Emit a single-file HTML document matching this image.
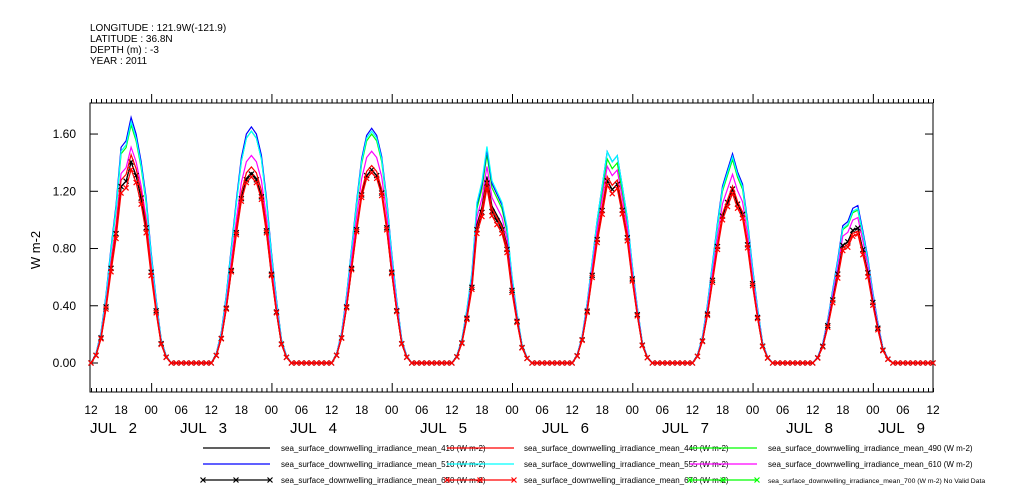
<!DOCTYPE html>
<html><head><meta charset="utf-8"><style>
body{margin:0;background:#fff;}
svg{display:block;font-family:"Liberation Sans",sans-serif;}
</style></head><body>
<svg id="c" width="1009" height="504" viewBox="0 0 1009 504">
<g font-size="10" fill="#000">
<text x="90" y="31">LONGITUDE : 121.9W(-121.9)</text>
<text x="90" y="42">LATITUDE : 36.8N</text>
<text x="90" y="53">DEPTH (m) : -3</text>
<text x="90" y="64">YEAR : 2011</text>
</g>
<text x="40" y="250" font-size="13" text-anchor="middle" transform="rotate(-90 40 250)">W m-2</text>
<g id="axes"></g>
<g id="plot"></g>
<g id="legend"></g>
</svg>
<script>
const seriesNames = ["410","440","490","510","555","610","650","670"];
const seriesColors = ["#000","#f00","#0f0","#00f","#0ff","#f0f","#000","#f00"];
const seriesMarkers = [false,false,false,false,false,false,true,true];
// hourly profile hours 12..28 (relative to daily peak)
const profile = [0,0.04,0.13,0.29,0.49,0.69,0.87,0.97,1.0,0.97,0.88,0.7,0.47,0.27,0.1,0.03,0];
// daily peak per series (rows = series, cols = JUL2..JUL8)
const peaks = [
 [1.35,1.33,1.35,1.12,1.25,1.18,0.9],
 [1.40,1.37,1.38,1.10,1.28,1.20,0.88],
 [1.60,1.62,1.60,1.25,1.40,1.38,1.02],
 [1.65,1.65,1.64,1.28,1.45,1.42,1.05],
 [1.62,1.62,1.62,1.30,1.45,1.40,1.03],
 [1.45,1.45,1.48,1.18,1.35,1.28,0.97],
 [1.35,1.32,1.35,1.08,1.25,1.18,0.9],
 [1.30,1.30,1.33,1.05,1.22,1.15,0.86]
];
// cloud multipliers per day per hour
const cloud = [
 [1,1,1,1,1,0.97,1.05,0.97,1.04,1,0.97,1,1,1,1,1,1],
 [1,1,1,1,1,1,1,1,1,1,1,1,1,1,1,1,1],
 [1,1,1,1,1,1,1,1,1,1,1,1,1,1,1,1,1],
 [1,1,1,1,1,1.25,1.12,1.2,0.98,0.95,0.98,1.05,1,1,1,1,1],
 [1,1,1,1,1,1,0.98,1.05,0.97,1.03,0.97,1,1,1,1,1,1],
 [1,1,1,1,1,1,1,0.98,1.03,0.97,1,1,1,1,1,1,1],
 [1,1,1,1,1,1,1.05,0.97,1.03,1.08,1,1,1,1,1,1,1]
];
const yTicks = ["0.00","0.40","0.80","1.20","1.60"];
const hourLabels = ["12","18","00","06"];
const dayLabels = ["JUL   2","JUL   3","JUL   4","JUL   5","JUL   6","JUL   7","JUL   8","JUL   9"];
const dayLabelX = [90,180,290,420,542,662,786,878];

const NS="http://www.w3.org/2000/svg";
const L=90,R=933,T=103,B=392;
const xs=t=>91+t*(842/168);
const ys=v=>363-v*143.1;
function mk(tag,attrs,parent){const e=document.createElementNS(NS,tag);for(const k in attrs)e.setAttribute(k,attrs[k]);parent.appendChild(e);return e;}
const axes=document.getElementById('axes'),plot=document.getElementById('plot'),leg=document.getElementById('legend');

const frame=mk('rect',{x:L,y:T,width:R-L,height:B-T,fill:'none',stroke:'#000','stroke-width':1},axes);

for(let h=0;h<=168;h++){
  const x=xs(h)+0.5;const isDay=((h+12)%24===0);const len=isDay?9:4;
  mk('line',{x1:x,x2:x,y1:B,y2:B-len,stroke:'#000'},axes);
  mk('line',{x1:x,x2:x,y1:T,y2:T-len,stroke:'#000'},axes);
  if(h%6===0){
    const t=mk('text',{x:xs(h),y:414,'font-size':12,'text-anchor':'middle'},axes);
    t.textContent=hourLabels[(h/6)%4];
    
  }
}
dayLabels.forEach((d,i)=>{
  const t=mk('text',{x:dayLabelX[i],y:433,'font-size':15},axes);
  t.style.whiteSpace='pre';
  t.textContent=d;
  
});
yTicks.forEach(s=>{
  const v=parseFloat(s),y=ys(v);
  mk('line',{x1:L,x2:L+8,y1:y,y2:y,stroke:'#000'},axes);
  mk('line',{x1:R,x2:R-8,y1:y,y2:y,stroke:'#000'},axes);
  const t=mk('text',{x:76,y:y+4,'font-size':12,'text-anchor':'end'},axes);
  t.textContent=s;
  
});
function xmark(x,y,c,p){mk('path',{d:`M${x-2.5} ${y-2.5}L${x+2.5} ${y+2.5}M${x-2.5} ${y+2.5}L${x+2.5} ${y-2.5}`,stroke:c,'stroke-width':1.2,fill:'none'},p);}
const order=[2,3,4,5,0,6,1,7];
order.forEach(si=>{
  const pts=[];
  for(let h=0;h<=168;h++){
    const d=Math.floor(h/24),k=h%24;
    let v=0;
    if(d<7&&k<profile.length) v=peaks[si][d]*profile[k]*cloud[d][k];
    else if(d>0&&k+24<profile.length) v=peaks[si][d-1]*profile[k+24]*cloud[d-1][k+24];
    pts.push([xs(h),ys(v)]);
  }
  const g=mk('g',{},plot);
  
  mk('polyline',{points:pts.map(p=>p.join(',')).join(' '),fill:'none',stroke:seriesColors[si],'stroke-width':1.2},g);
  if(seriesMarkers[si]) pts.forEach(p=>xmark(p[0],p[1],seriesColors[si],g));
});
const legCols=[[203,281],[447,524],[690,768]];
const legRows=[448,464,480];
const order9=["410","440","490","510","555","610","650","670","700"];
for(let i=0;i<9;i++){
  const col=i%3,row=Math.floor(i/3);const [lx,tx]=legCols[col];const y=legRows[row];
  const g=mk('g',{},leg);
  
  const si=seriesNames.indexOf(order9[i]);
  const c=si>=0?seriesColors[si]:"#0f0";
  mk('line',{x1:lx,x2:lx+67,y1:y,y2:y,stroke:c,'stroke-width':1.2},g);
  if(row===2){xmark(lx,y,c,g);xmark(lx+33,y,c,g);xmark(lx+67,y,c,g);}
  const t=mk('text',{x:tx,y:y+3,'font-size':i===8?6.8:8},g);
  t.textContent="sea_surface_downwelling_irradiance_mean_"+order9[i]+" (W m-2)"+(i===8?" No Valid Data":"");
}
</script>
</body></html>
